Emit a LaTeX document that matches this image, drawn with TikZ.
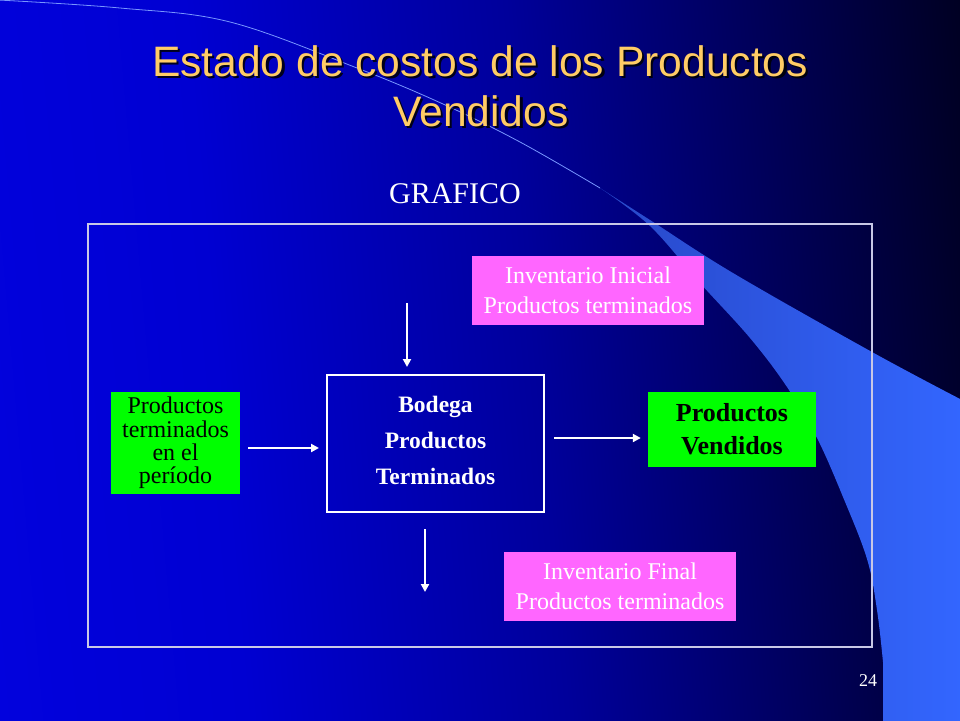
\documentclass[tikz,border=0pt]{standalone}
\usepackage{fontspec}
\setmainfont{Liberation Serif}
\newfontfamily\arialf{Liberation Sans}
\usetikzlibrary{arrows.meta}
\definecolor{titlec}{RGB}{255,204,102}
\definecolor{pinkc}{RGB}{255,102,255}
\definecolor{greenc}{RGB}{0,255,0}
\definecolor{framec}{RGB}{200,200,230}
\definecolor{bandc}{RGB}{51,102,255}
\definecolor{banddark}{RGB}{40,72,200}
\definecolor{arcc}{RGB}{120,150,255}
\definecolor{bgA}{RGB}{5,5,240}
\definecolor{bgB}{RGB}{0,0,210}
\definecolor{bgC}{RGB}{0,0,155}
\definecolor{bgD}{RGB}{0,0,90}
\definecolor{bgE}{RGB}{0,0,30}
\definecolor{bgF}{RGB}{0,0,3}
\definecolor{bgG}{RGB}{0,0,0}
\pgfdeclarehorizontalshading{bgshade}{100bp}{
  color(0bp)=(bgA);
  color(36bp)=(bgB);
  color(53bp)=(bgC);
  color(66bp)=(bgD);
  color(78bp)=(bgE);
  color(88bp)=(bgF);
  color(100bp)=(bgG)}
\begin{document}
\begin{tikzpicture}[x=1pt,y=-1pt,
  pinkbox/.style={fill=pinkc, text=white, inner sep=0pt, minimum width=232pt, minimum height=69pt, align=center, font=\fontsize{24}{30}\selectfont},
  arr/.style={draw=white, line width=2pt, -{Triangle[length=8pt,width=8pt]}}]
\useasboundingbox (0,0) rectangle (960,720);
\shade[shading=bgshade, shading angle=5] (0,0) rectangle (960,720);
% swoosh band
\shade[left color=banddark, middle color=bandc, right color=bandc]
  plot[smooth, tension=0.6] coordinates {(600,188) (650,220) (733,273) (872,352) (962,400)}
  -- (962,722) -- (883,722)
  -- plot[smooth, tension=0.6] coordinates {(883,662) (877,610) (867,559) (843,497) (817,438) (787,387) (750,338) (700,283) (650,226) (600,188)}
  -- cycle;
\draw[arcc, line width=0.8pt] plot[smooth, tension=0.6] coordinates {(-2,0) (120,8) (230,22) (357,68) (443,104) (520,142) (600,188)};
% title
\foreach \dx/\col/\op in {2.2/black/0.85, 0/titlec/1} {
  \node[text=\col, opacity=\op, font=\arialf\fontsize{42.6}{50}\selectfont, anchor=base, inner sep=0pt] at (480+\dx,76+\dx) {Estado de costos de los Productos};
  \node[text=\col, opacity=\op, font=\arialf\fontsize{42.6}{50}\selectfont, anchor=base, inner sep=0pt] at (481+\dx,126+\dx) {Vendidos};
}
\node[text=white, font=\fontsize{30}{36}\selectfont, anchor=base, inner sep=0pt] (graf) at (455,203) {GRAFICO};
% frame
\node[draw=framec, line width=1.5pt, minimum width=784pt, minimum height=423pt, inner sep=0pt] (frame) at (480,435.5) {};
% boxes
\node[pinkbox] (ini) at (588,290.5) {Inventario Inicial\\Productos terminados};
\node[pinkbox] (fin) at (620,586) {Inventario Final\\Productos terminados};
\node[fill=greenc, text=black, inner sep=0pt, minimum width=129pt, minimum height=102pt, align=center, font=\fontsize{24}{23.4}\selectfont] (gl) at (175.5,443) {Productos\\terminados\\en el\\período};
\node[draw=white, line width=2pt, inner sep=0pt, minimum width=217pt, minimum height=137pt, align=center, text=white, text depth=7pt, font=\bfseries\fontsize{23.5}{36}\selectfont] (bod) at (435.5,443.5) {Bodega\\Productos\\Terminados};
\node[fill=greenc, text=black, inner sep=0pt, minimum width=168pt, minimum height=75pt, align=center, font=\bfseries\fontsize{26}{32.7}\selectfont] (pv) at (732,429.5) {Productos\\Vendidos};
% arrows
\coordinate (topstart) at (407,303);
\coordinate (botend) at (425,592);
\draw[arr, shorten >=7pt] (topstart) -- (topstart |- bod.north);
\draw[arr, shorten <=8pt, shorten >=7pt] ([yshift=-5pt]gl.east) -- ([yshift=-5pt]gl.east -| bod.west);
\draw[arr, shorten <=9pt, shorten >=7pt] ([yshift=5.5pt]bod.east) -- ([yshift=5.5pt]bod.east -| pv.west);
\draw[arr, shorten <=16pt] ([xshift=-10.5pt]bod.south) -- (botend);
% page number
\node[text=white, font=\fontsize{18}{20}\selectfont, anchor=base, inner sep=0pt] (pg) at (868,686) {24};
\end{tikzpicture}
\end{document}
